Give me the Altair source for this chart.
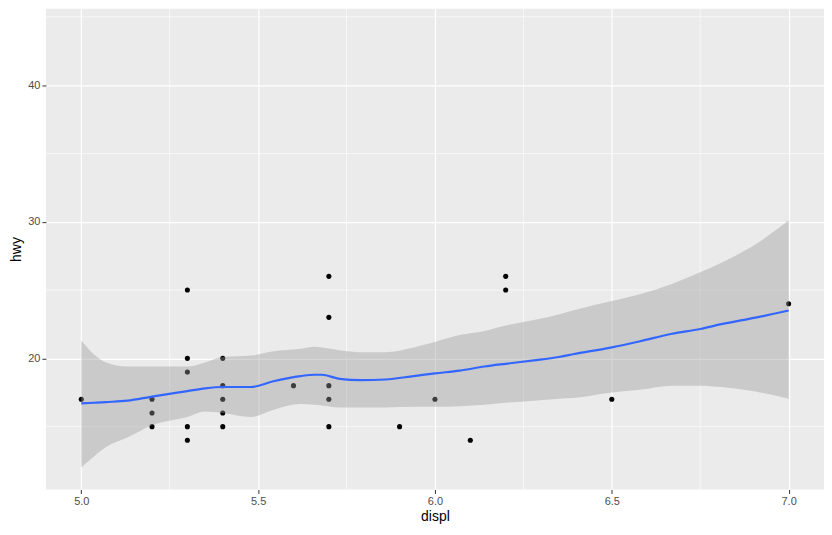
import altair as alt
import pandas as pd

# scatter points (displ, hwy) visible in the window
pt_displ = [5.0, 5.2, 5.2, 5.2, 5.3, 5.3, 5.3, 5.3, 5.3, 5.4, 5.4, 5.4, 5.4, 5.4,
            5.6, 5.7, 5.7, 5.7, 5.7, 5.7, 5.9, 6.0, 6.1, 6.2, 6.2, 6.5, 7.0]
pt_hwy = [17, 17, 16, 15, 25, 20, 19, 15, 14, 20, 18, 17, 16, 15,
          18, 26, 23, 18, 17, 15, 15, 17, 14, 26, 25, 17, 24]

# smooth fit and confidence band
sm_x = [5.0, 5.035, 5.07, 5.13, 5.2, 5.3, 5.35, 5.4, 5.48, 5.54, 5.62, 5.66, 5.68,
        5.73, 5.79, 5.86, 5.94, 6.0, 6.07, 6.14, 6.2, 6.28, 6.35, 6.39, 6.5, 6.58,
        6.67, 6.75, 6.81, 6.91, 7.0]
sm_fit = [16.7, 16.75, 16.8, 16.9, 17.2, 17.6, 17.8, 17.9, 17.9, 18.3, 18.7, 18.8, 18.8,
          18.5, 18.4, 18.45, 18.7, 18.9, 19.1, 19.4, 19.6, 19.85, 20.1, 20.3, 20.8, 21.25,
          21.8, 22.15, 22.5, 23.0, 23.5]
sm_hi = [21.3, 20.3, 19.7, 19.4, 19.4, 19.4, 19.7, 20.1, 20.2, 20.5, 20.7, 20.85, 20.8,
         20.6, 20.45, 20.45, 20.8, 21.2, 21.7, 22.0, 22.4, 22.8, 23.2, 23.5, 24.2, 24.7,
         25.45, 26.3, 27.0, 28.4, 30.1]
sm_lo = [12.0, 12.8, 13.5, 14.2, 15.1, 15.7, 16.1, 16.0, 15.7, 16.2, 16.65, 16.6, 16.55,
         16.4, 16.4, 16.4, 16.45, 16.45, 16.5, 16.6, 16.75, 16.9, 17.05, 17.1, 17.5, 17.7,
         18.0, 18.0, 17.9, 17.55, 17.05]

x_ticks = [5.0, 5.5, 6.0, 6.5, 7.0]
y_ticks = [20, 30, 40]
x_minor = [5.25, 5.75, 6.25, 6.75]
y_minor = [15, 25, 35, 45]

pts = pd.DataFrame({"displ": pt_displ, "hwy": pt_hwy})
sm = pd.DataFrame({"displ": sm_x, "fit": sm_fit, "lo": sm_lo, "hi": sm_hi})
xm = pd.DataFrame({"v": x_minor})
ym = pd.DataFrame({"v": y_minor})

FONT = "Liberation Sans"
xscale = alt.Scale(domain=[4.9, 7.1], nice=False, zero=False)
yscale = alt.Scale(domain=[10.4, 45.6], nice=False, zero=False)

xaxis = alt.Axis(values=x_ticks, format=".1f", title="displ", grid=True,
                 gridColor="white", gridWidth=1.2, domain=False,
                 tickColor="#333333", tickSize=4, labelPadding=2,
                 labelColor="#4D4D4D", labelFontSize=11, labelFont=FONT,
                 titleFont=FONT, titleFontSize=14, titleFontWeight="normal",
                 titleColor="black", titlePadding=3)
yaxis = alt.Axis(values=y_ticks, title="hwy", grid=True,
                 gridColor="white", gridWidth=1.2, domain=False,
                 tickColor="#333333", tickSize=4, labelPadding=2,
                 labelColor="#4D4D4D", labelFontSize=11, labelFont=FONT,
                 titleFont=FONT, titleFontSize=14, titleFontWeight="normal",
                 titleColor="black", titlePadding=4)

minor_x = alt.Chart(xm).mark_rule(color="white", strokeWidth=0.6).encode(
    x=alt.X("v:Q", scale=xscale, axis=xaxis))
minor_y = alt.Chart(ym).mark_rule(color="white", strokeWidth=0.6).encode(
    y=alt.Y("v:Q", scale=yscale, axis=yaxis))

points = alt.Chart(pts).mark_circle(color="black", opacity=1, size=26).encode(
    x=alt.X("displ:Q", scale=xscale, axis=xaxis),
    y=alt.Y("hwy:Q", scale=yscale, axis=yaxis))

band = alt.Chart(sm).mark_area(color="#999999", opacity=0.4, interpolate="monotone").encode(
    x=alt.X("displ:Q", scale=xscale, axis=xaxis),
    y=alt.Y("lo:Q", scale=yscale, axis=yaxis),
    y2="hi:Q")

line = alt.Chart(sm).mark_line(color="#3366FF", strokeWidth=2.2, interpolate="monotone").encode(
    x=alt.X("displ:Q", scale=xscale, axis=xaxis),
    y=alt.Y("fit:Q", scale=yscale, axis=yaxis))

chart = alt.layer(minor_x, minor_y, points, band, line).properties(
    width=780, height=482,
    autosize=alt.AutoSizeParams(type="none"),
    padding={"left": 38, "top": 0, "right": 0, "bottom": 45},
).configure(
    background="white",
    view=alt.ViewConfig(fill="#EBEBEB", stroke=None),
)

chart.save("out.html", embed_options={"renderer": "svg", "actions": False})
